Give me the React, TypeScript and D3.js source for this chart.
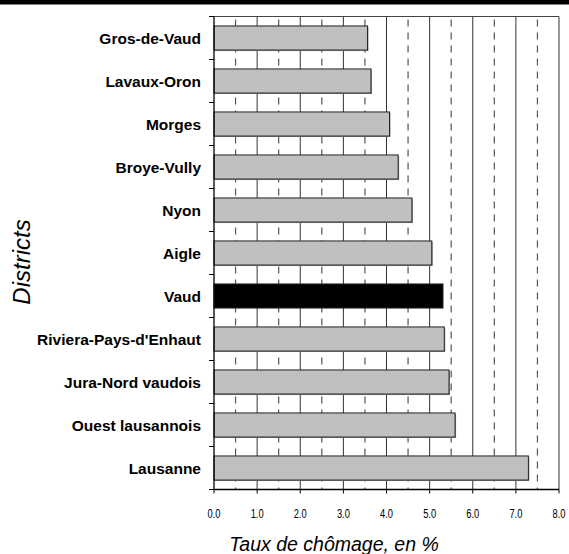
import React from 'react';
import * as d3 from 'd3';

// districts, top to bottom
const districts = [
  'Gros-de-Vaud',
  'Lavaux-Oron',
  'Morges',
  'Broye-Vully',
  'Nyon',
  'Aigle',
  'Vaud',
  "Riviera-Pays-d'Enhaut",
  'Jura-Nord vaudois',
  'Ouest lausannois',
  'Lausanne',
];
const rates = [3.56, 3.64, 4.07, 4.27, 4.59, 5.05, 5.31, 5.34, 5.45, 5.59, 7.29];
const majorTicks = [0, 1, 2, 3, 4, 5, 6, 7, 8];
const minorTicks = [0.5, 1.5, 2.5, 3.5, 4.5, 5.5, 6.5, 7.5];

const W = 569;
const H = 554;
const left = 214;
const right = 559;
const top = 16.5;
const bottom = 489.5;

function App() {
  const x = d3.scaleLinear().domain([0, 8]).range([left, right]);
  const y = d3
    .scaleBand<string>()
    .domain(districts)
    .range([top, bottom])
    .paddingInner(0.44)
    .paddingOuter(0.22);
  const step = y.step();
  const bw = y.bandwidth();

  const font = 'Liberation Sans, Arial, Helvetica, sans-serif';

  return (
    <svg
      width={W}
      height={H}
      style={{ position: 'absolute', left: 0, top: 0, background: '#fff' }}
    >
      <rect x={0} y={0} width={W} height={4.5} fill="#000" />

      {/* dashed minor grid */}
      {minorTicks.map((t) => (
        <line
          key={'m' + t}
          x1={x(t)}
          x2={x(t)}
          y1={top}
          y2={bottom}
          stroke="#555"
          strokeWidth={1.2}
          strokeDasharray="7,6"
          strokeDashoffset={-3}
        />
      ))}
      {/* solid major grid */}
      {majorTicks.slice(1).map((t) => (
        <line
          key={'M' + t}
          x1={x(t)}
          x2={x(t)}
          y1={top}
          y2={bottom}
          stroke="#333"
          strokeWidth={1}
        />
      ))}
      <line x1={left} x2={right} y1={top} y2={top} stroke="#444" strokeWidth={1} />

      {/* bars */}
      {districts.map((d, i) => {
        const isVaud = d === 'Vaud';
        const by = y(d) as number;
        return (
          <g key={d}>
            {!isVaud && (
              <rect
                x={x(0) + 1}
                y={by + 1}
                width={x(rates[i]) - x(0)}
                height={bw}
                fill="#999"
              />
            )}
            <rect
              x={x(0)}
              y={by}
              width={x(rates[i]) - x(0)}
              height={bw}
              fill={isVaud ? '#000' : '#c0c0c0'}
              stroke="#222"
              strokeWidth={1}
            />
          </g>
        );
      })}

      {/* axes */}
      <line x1={left} x2={left} y1={top} y2={bottom} stroke="#000" strokeWidth={1.3} />
      <line x1={left} x2={right} y1={bottom} y2={bottom} stroke="#000" strokeWidth={1.3} />
      {d3.range(districts.length + 1).map((i) => (
        <line
          key={'yt' + i}
          x1={left - 5}
          x2={left}
          y1={top + i * step}
          y2={top + i * step}
          stroke="#000"
          strokeWidth={1}
        />
      ))}
      {majorTicks.map((t) => (
        <line
          key={'xt' + t}
          x1={x(t)}
          x2={x(t)}
          y1={bottom}
          y2={bottom + 4}
          stroke="#000"
          strokeWidth={1}
        />
      ))}

      {/* labels */}
      {districts.map((d) => (
        <text
          key={'l' + d}
          x={201}
          y={(y(d) as number) + bw / 2 + 5.5}
          textAnchor="end"
          fontFamily={font}
          fontWeight="bold"
          fontSize={15.5}
          fill="#000"
        >
          {d}
        </text>
      ))}
      {majorTicks.map((t) => (
        <text
          key={'xl' + t}
          transform={`translate(${x(t)},517.5) scale(0.72,1)`}
          textAnchor="middle"
          fontFamily={font}
          fontSize={13}
          fill="#000"
        >
          {t.toFixed(1)}
        </text>
      ))}
      <text
        x={334}
        y={551}
        textAnchor="middle"
        fontFamily={font}
        fontStyle="italic"
        fontSize={19.5}
        fill="#000"
      >
        Taux de chômage, en %
      </text>
      <text
        transform="translate(30,262) rotate(-90)"
        textAnchor="middle"
        fontFamily={font}
        fontStyle="italic"
        fontSize={24}
        fill="#000"
      >
        Districts
      </text>
    </svg>
  );
}

export default App;
